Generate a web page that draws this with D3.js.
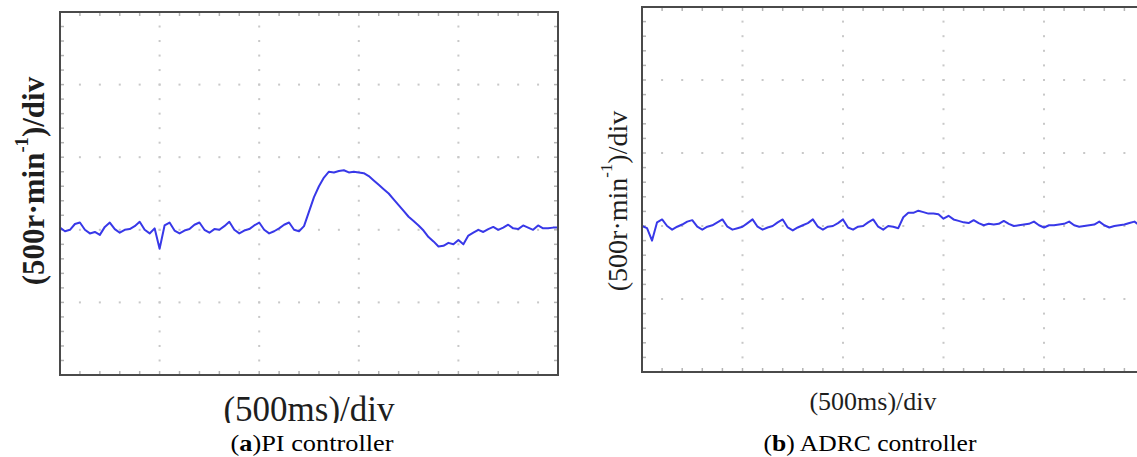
<!DOCTYPE html>
<html>
<head>
<meta charset="utf-8">
<script src="https://cdn.jsdelivr.net/npm/d3@7"></script>
<style>
  html, body { margin: 0; padding: 0; background: #fff; }
  svg { display: block; }
</style>
</head>
<body>
<svg id="fig" width="1137" height="457"></svg>
<script>
// Time base: 500 ms per division, 5 divisions, one sample every 25 ms
const timeStepMs = 25;
const timeDivTicks = [0, 500, 1000, 1500, 2000, 2500];
const timeMinorStep = 100;
// Speed axis in divisions (500 r/min per division), 5 divisions
const speedDivTicks = [0, 1, 2, 3, 4, 5];
const speedMinorStep = 0.2;

// Motor speed trace under the PI controller (divisions)
const piSpeed = [
  2.03, 1.98, 2.00, 2.08, 2.10, 2.00, 1.95, 1.97, 1.93, 2.04,
  2.10, 2.01, 1.96, 2.00, 2.01, 2.05, 2.11, 2.00, 1.95, 2.02,
  1.74, 2.06, 2.10, 1.99, 1.95, 1.99, 2.01, 2.07, 2.10, 2.00,
  1.96, 2.01, 2.00, 2.05, 2.11, 2.00, 1.95, 1.99, 2.01, 2.06,
  2.10, 2.00, 1.95, 1.98, 2.02, 2.07, 2.10, 2.00, 1.98, 2.05,
  2.25, 2.45, 2.60, 2.72, 2.80, 2.79, 2.81, 2.82, 2.79, 2.80,
  2.79, 2.78, 2.74, 2.68, 2.62, 2.56, 2.50, 2.42, 2.34, 2.26,
  2.18, 2.12, 2.06, 1.99, 1.90, 1.84, 1.77, 1.78, 1.82, 1.80,
  1.86, 1.80, 1.92, 1.96, 2.00, 1.97, 2.01, 2.04, 2.00, 2.03,
  2.07, 2.02, 2.01, 2.06, 2.03, 2.00, 2.06, 2.02, 2.02, 2.03,
  2.03
];

// Motor speed trace under the ADRC controller (divisions)
const adrcSpeed = [
  2.00, 1.97, 1.80, 2.05, 2.09, 2.00, 1.95, 1.99, 2.02, 2.06,
  2.08, 1.99, 1.95, 1.99, 2.01, 2.05, 2.09, 1.99, 1.95, 1.97,
  1.99, 2.04, 2.09, 1.99, 1.95, 1.98, 2.00, 2.05, 2.09, 1.98,
  1.94, 1.98, 2.01, 2.04, 2.09, 1.99, 1.95, 1.99, 2.00, 2.04,
  2.09, 1.98, 1.95, 1.99, 2.00, 2.05, 2.09, 1.99, 1.95, 2.00,
  1.99, 1.97, 2.12, 2.18, 2.18, 2.21, 2.19, 2.17, 2.17, 2.16,
  2.10, 2.14, 2.09, 2.07, 2.05, 2.04, 2.08, 2.04, 2.01, 2.03,
  2.02, 2.03, 2.07, 2.03, 2.00, 2.01, 2.02, 2.03, 2.06, 2.01,
  1.98, 2.01, 2.01, 2.02, 2.03, 2.06, 2.01, 1.99, 2.00, 2.01,
  2.02, 2.06, 2.01, 1.98, 2.00, 2.01, 2.02, 2.04, 2.06, 2.01,
  2.00
];

const xAxisLabel = "(500ms)/div";

const svg = d3.select("#fig");
svg.append("rect").attr("width", 1137).attr("height", 457).attr("fill", "#fff");

// the left time label is cut off along its lower edge
svg.append("defs").append("clipPath").attr("id", "clipLabelA")
  .append("rect").attr("x", 0).attr("y", 0).attr("width", 600).attr("height", 423);

const panels = [
  { id: "pi", data: piSpeed, left: 60, top: 12, right: 558, bottom: 375,
    yLabelX: 33, yLabelY: 181, yLabelSize: 31, yLabelWeight: "bold",
    xLabelX: 309, xLabelY: 421, xLabelSize: 35, xLabelClip: "url(#clipLabelA)",
    capX: 312, capY: 451, capLen: 163, capTag: "a", capText: "PI controller", capSep: "" },
  { id: "adrc", data: adrcSpeed, left: 642, top: 7, right: 1144.5, bottom: 372,
    yLabelX: 617, yLabelY: 201, yLabelSize: 28, yLabelWeight: "normal",
    xLabelX: 873, xLabelY: 410, xLabelSize: 26, xLabelClip: null,
    capX: 870, capY: 451, capLen: 213, capTag: "b", capText: "ADRC controller", capSep: " " }
];

panels.forEach(p => {
  const x = d3.scaleLinear().domain([0, 2500]).range([p.left, p.right]);
  const y = d3.scaleLinear().domain([0, 5]).range([p.bottom, p.top]);
  const g = svg.append("g").attr("class", "panel-" + p.id);

  const minorT = d3.range(0, 2500 + 1e-6, timeMinorStep);
  const minorS = d3.range(0, 5 + 1e-6, speedMinorStep);
  const dotColor = "#c8c8c8";

  // dotted graticule: dots along each interior major line
  const grid = g.append("g");
  timeDivTicks.slice(1, -1).forEach(t => {
    grid.selectAll(null).data(minorS).join("rect")
      .attr("x", x(t) - 1).attr("y", d => y(d) - 1)
      .attr("width", 2).attr("height", 2).attr("fill", dotColor);
  });
  speedDivTicks.slice(1, -1).forEach(s => {
    grid.selectAll(null).data(minorT).join("rect")
      .attr("x", d => x(d) - 1).attr("y", y(s) - 1)
      .attr("width", 2).attr("height", 2).attr("fill", dotColor);
  });

  // minor ticks on the frame edges
  const tickColor = "#b4b4b4";
  grid.selectAll(null).data(minorT).join("line")
    .attr("x1", d => x(d)).attr("x2", d => x(d))
    .attr("y1", p.top).attr("y2", p.top + 4)
    .attr("stroke", tickColor).attr("stroke-width", 1.5);
  grid.selectAll(null).data(minorT).join("line")
    .attr("x1", d => x(d)).attr("x2", d => x(d))
    .attr("y1", p.bottom).attr("y2", p.bottom - 4)
    .attr("stroke", tickColor).attr("stroke-width", 1.5);
  grid.selectAll(null).data(minorS).join("line")
    .attr("x1", p.left).attr("x2", p.left + 4)
    .attr("y1", d => y(d)).attr("y2", d => y(d))
    .attr("stroke", tickColor).attr("stroke-width", 1.5);
  grid.selectAll(null).data(minorS).join("line")
    .attr("x1", p.right).attr("x2", p.right - 4)
    .attr("y1", d => y(d)).attr("y2", d => y(d))
    .attr("stroke", tickColor).attr("stroke-width", 1.5);

  // speed trace
  const line = d3.line()
    .x((d, i) => x(i * timeStepMs))
    .y(d => y(d));
  g.append("path")
    .datum(p.data)
    .attr("d", line)
    .attr("fill", "none")
    .attr("stroke", "#3838e8")
    .attr("stroke-width", 2)
    .attr("stroke-linejoin", "round");

  // frame
  g.append("rect")
    .attr("x", p.left).attr("y", p.top)
    .attr("width", p.right - p.left).attr("height", p.bottom - p.top)
    .attr("fill", "none").attr("stroke", "#4a4a4a").attr("stroke-width", 2);

  // y-axis label, rotated
  const yl = g.append("text")
    .attr("transform", `translate(${p.yLabelX},${p.yLabelY}) rotate(-90)`)
    .attr("text-anchor", "middle")
    .attr("dominant-baseline", "central")
    .attr("font-family", "'Liberation Serif', 'Times New Roman', serif")
    .attr("font-size", p.yLabelSize)
    .attr("font-weight", p.yLabelWeight)
    .attr("fill", "#1e1e1e");
  yl.append("tspan").text("(500r\u00B7min");
  yl.append("tspan").attr("dy", -p.yLabelSize * 0.4).attr("font-size", p.yLabelSize * 0.6).text("-1");
  yl.append("tspan").attr("dy", p.yLabelSize * 0.4).text(")/div");

  // x-axis label
  g.append("text")
    .attr("x", p.xLabelX).attr("y", p.xLabelY)
    .attr("text-anchor", "middle")
    .attr("clip-path", p.xLabelClip)
    .attr("font-family", "'Liberation Serif', 'Times New Roman', serif")
    .attr("font-size", p.xLabelSize)
    .attr("fill", "#1e1e1e")
    .text(xAxisLabel);

  // caption
  const cap = g.append("text")
    .attr("x", p.capX).attr("y", p.capY)
    .attr("text-anchor", "middle")
    .attr("textLength", p.capLen)
    .attr("lengthAdjust", "spacingAndGlyphs")
    .attr("font-family", "'Liberation Serif', 'Times New Roman', serif")
    .attr("font-size", 23)
    .attr("fill", "#000");
  cap.append("tspan").text("(");
  cap.append("tspan").attr("font-weight", "bold").text(p.capTag);
  cap.append("tspan").text(")" + p.capSep + p.capText);
});
</script>
</body>
</html>
